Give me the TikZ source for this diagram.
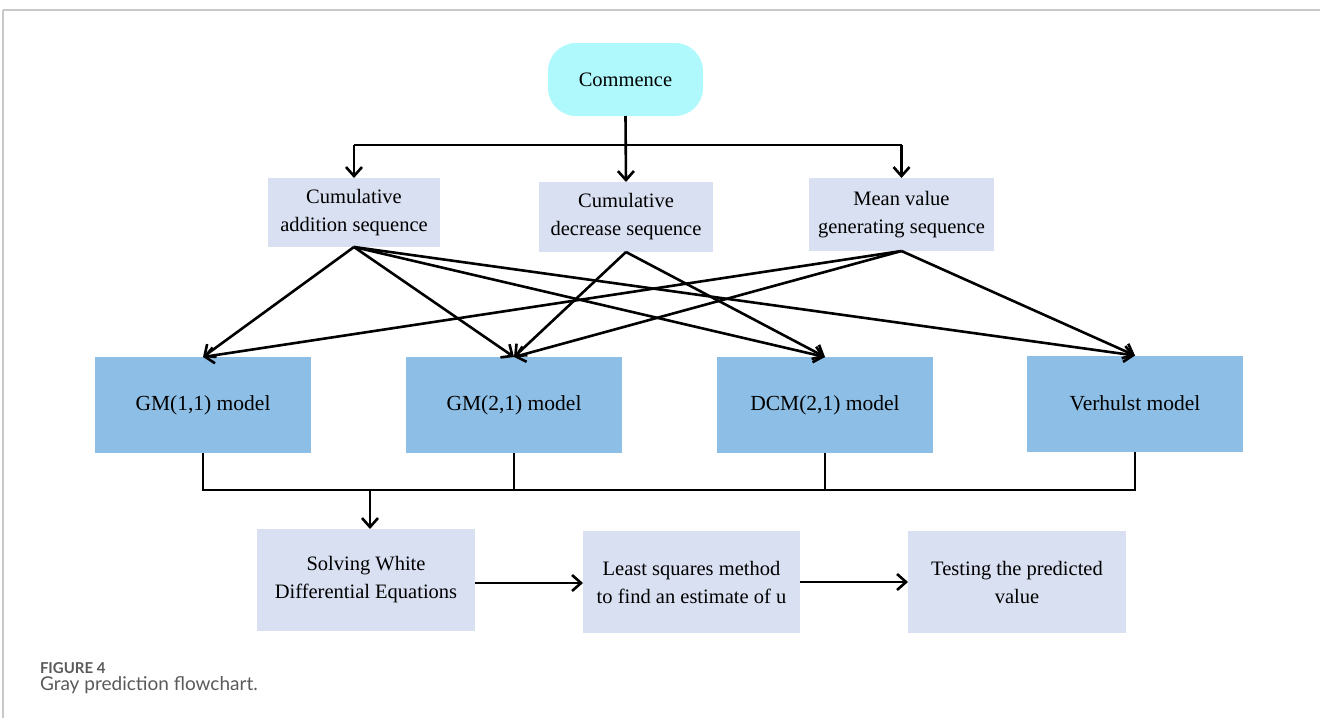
\documentclass[tikz,border=0pt]{standalone}
\usepackage{fontspec}
\setmainfont{Liberation Serif}
\newfontfamily\capfont{Lato}
\usetikzlibrary{arrows.meta}
\definecolor{startcol}{HTML}{AFF8FC}
\definecolor{seqcol}{HTML}{D9E0F1}
\definecolor{modcol}{HTML}{8DBFE6}
\definecolor{framecol}{HTML}{C8C8C8}
\definecolor{capcol}{HTML}{5A5A5A}
\tikzset{
  every node/.style={inner sep=0pt, outer sep=0pt, font=\fontsize{20.5}{28}\selectfont, align=center},
  startbox/.style={fill=startcol, rounded corners=28pt, minimum width=155pt, minimum height=73pt},
  seqbox/.style={fill=seqcol, minimum height=70pt},
  modelbox/.style={fill=modcol, minimum width=216pt, minimum height=96pt, font=\fontsize{21.5}{28}\selectfont},
  stepbox/.style={fill=seqcol, minimum width=218pt, minimum height=102pt},
  arr/.style={-{Straight Barb[length=9pt,width=16pt,line width=2.6pt]}, line width=2.6pt},
  link/.style={line width=2.4pt},
}
\begin{document}
\begin{tikzpicture}[x=1pt,y=-1pt]
\useasboundingbox (0,0) rectangle (1320,718);
% frame
\draw[framecol, line width=2pt] (3,10) -- (1320,10);
\draw[framecol, line width=1.3pt] (3,10) -- (3,718);

% nodes
\node[startbox] (start) at (625.5,79.5) {Commence};
\node[seqbox, minimum width=172pt, minimum height=69pt] (c1) at (354,212.5) {Cumulative\\addition sequence};
\node[seqbox, minimum width=174pt] (c2) at (626,217) {Cumulative\\decrease sequence};
\node[seqbox, minimum width=185pt, minimum height=73pt] (c3) at (901.5,214.5) {Mean value\\generating sequence};

\node[modelbox] (m1) at (203,405) {GM(1,1) model};
\node[modelbox] (m2) at (514,405) {GM(2,1) model};
\node[modelbox] (m3) at (825,405) {DCM(2,1) model};
\node[modelbox] (m4) at (1135,403.5) {Verhulst model};

\node[stepbox] (s1) at (366,580) {Solving White\\Differential Equations};
\node[stepbox, minimum width=217pt] (s2) at (691.5,582) {Least squares method\\to find an estimate of u};
\node[stepbox] (s3) at (1017,582) {Testing the predicted\\value};

% top distribution
\coordinate (hl) at (0,145);
\draw[arr] (start.south) -- (c2.north);
\draw[link] (c1.north |- hl) -- (c3.north |- hl);
\draw[arr] (c1.north |- hl) -- (c1.north);
\draw[arr] (c3.north |- hl) -- (c3.north);

% cross connections
\draw[arr] (c1.south) -- (m1.north);
\draw[arr] (c1.south) -- (m2.north);
\draw[arr] (c1.south) -- (m3.north);
\draw[arr] (c1.south) -- (m4.north);
\draw[arr] (c2.south) -- (m2.north);
\draw[arr] (c2.south) -- (m3.north);
\draw[arr] (c3.south) -- (m1.north);
\draw[arr] (c3.south) -- (m2.north);
\draw[arr] (c3.south) -- (m4.north);

% bus to bottom
\coordinate (bus) at (0,490);
\draw[link] (m1.south) -- (m1.south |- bus) -- (m4.south |- bus) -- (m4.south);
\draw[link] (m2.south) -- (m2.south |- bus);
\draw[link] (m3.south) -- (m3.south |- bus);
\coordinate (drop) at (370,490);
\draw[arr] (drop) -- (drop |- s1.north);

% bottom chain
\draw[arr] (s1.east |- 0,583) -- (s2.west |- 0,583);
\draw[arr] (s2.east |- 0,582) -- (s3.west |- 0,582);

% caption
\node[anchor=base west, font=\capfont\bfseries\fontsize{15}{17}\selectfont, text=capcol, align=left] (fig) at (40,673) {FIGURE 4};
\node[anchor=base west, font=\capfont\fontsize{19}{21}\selectfont, text=capcol, align=left] (cap) at (40,690) {Gray prediction flowchart.};
\end{tikzpicture}
\end{document}
